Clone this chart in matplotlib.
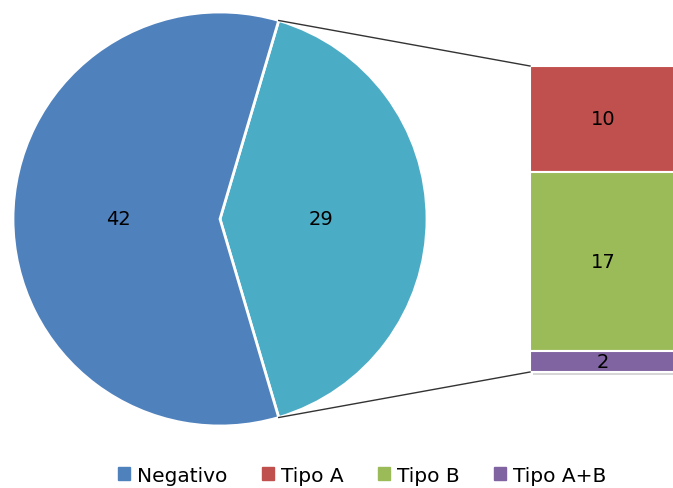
import numpy as np
import matplotlib.pyplot as plt
from matplotlib.patches import Patch

# totals for the pie and the breakdown of the positive slice
pie_labels = ['Negativo', 'Positivo']
pie_values = [42, 29]
bar_labels = ['Tipo A', 'Tipo B', 'Tipo A+B']
bar_values = [10, 17, 2]

pie_colors = ['#4F81BD', '#4BACC6']
bar_colors = ['#C0504D', '#9BBB59', '#8064A2']

W, H = 673, 489
fig = plt.figure(figsize=(W / 100, H / 100), dpi=100)
ax = fig.add_axes([0, 0, 1, 1])

cx, cy, r = 220, 269, 207
span = 360 * pie_values[1] / sum(pie_values)
start = -span / 2

wedges, texts = ax.pie(pie_values[::-1], colors=pie_colors[::-1], startangle=start,
                       center=(cx, cy), radius=r, labels=[str(v) for v in pie_values[::-1]],
                       labeldistance=0.5, frame=True,
                       wedgeprops=dict(edgecolor='white', linewidth=2),
                       textprops=dict(fontsize=14, color='black', ha='center', va='center'))
ax.set_xlim(0, W)
ax.set_ylim(0, H)
ax.set_aspect('equal')
ax.axis('off')
texts[0].set_position((cx + r * 0.49, cy))
texts[1].set_position((cx - r * 0.49, cy))

# stacked breakdown bar
bx, bw = 530, 150
b_bottom, b_top = 116, 422
scale = (b_top - b_bottom) / sum(bar_values)
y0 = b_top
for v, c in zip(bar_values, bar_colors):
    h = v * scale
    ax.bar(bx + 3, h, width=bw, bottom=y0 - h - 3, align='edge', color='#999999',
           alpha=0.4, linewidth=0, zorder=1)
    ax.bar(bx, h, width=bw, bottom=y0 - h, align='edge', color=c,
           edgecolor='white', linewidth=1.5, zorder=2)
    ax.text(bx + 73, y0 - h / 2, str(v), fontsize=14, ha='center', va='center', zorder=3)
    y0 -= h

# connector lines from slice edges to the bar
a = np.radians(span / 2)
ax.plot([cx + r * np.cos(a), bx], [cy + r * np.sin(a), b_top], color='#333333', lw=1)
ax.plot([cx + r * np.cos(-a), bx], [cy + r * np.sin(-a), b_bottom], color='#333333', lw=1)

handles = [Patch(color=pie_colors[0], label=pie_labels[0])] + \
    [Patch(color=c, label=l) for c, l in zip(bar_colors, bar_labels)]
fig.legend(handles=handles, loc='center', bbox_to_anchor=(0.538, 0.026), ncol=4,
           frameon=False, fontsize=14.5, handlelength=0.6, handleheight=0.6,
           handletextpad=0.35, columnspacing=1.7)

fig.savefig('out.png', dpi=100)
